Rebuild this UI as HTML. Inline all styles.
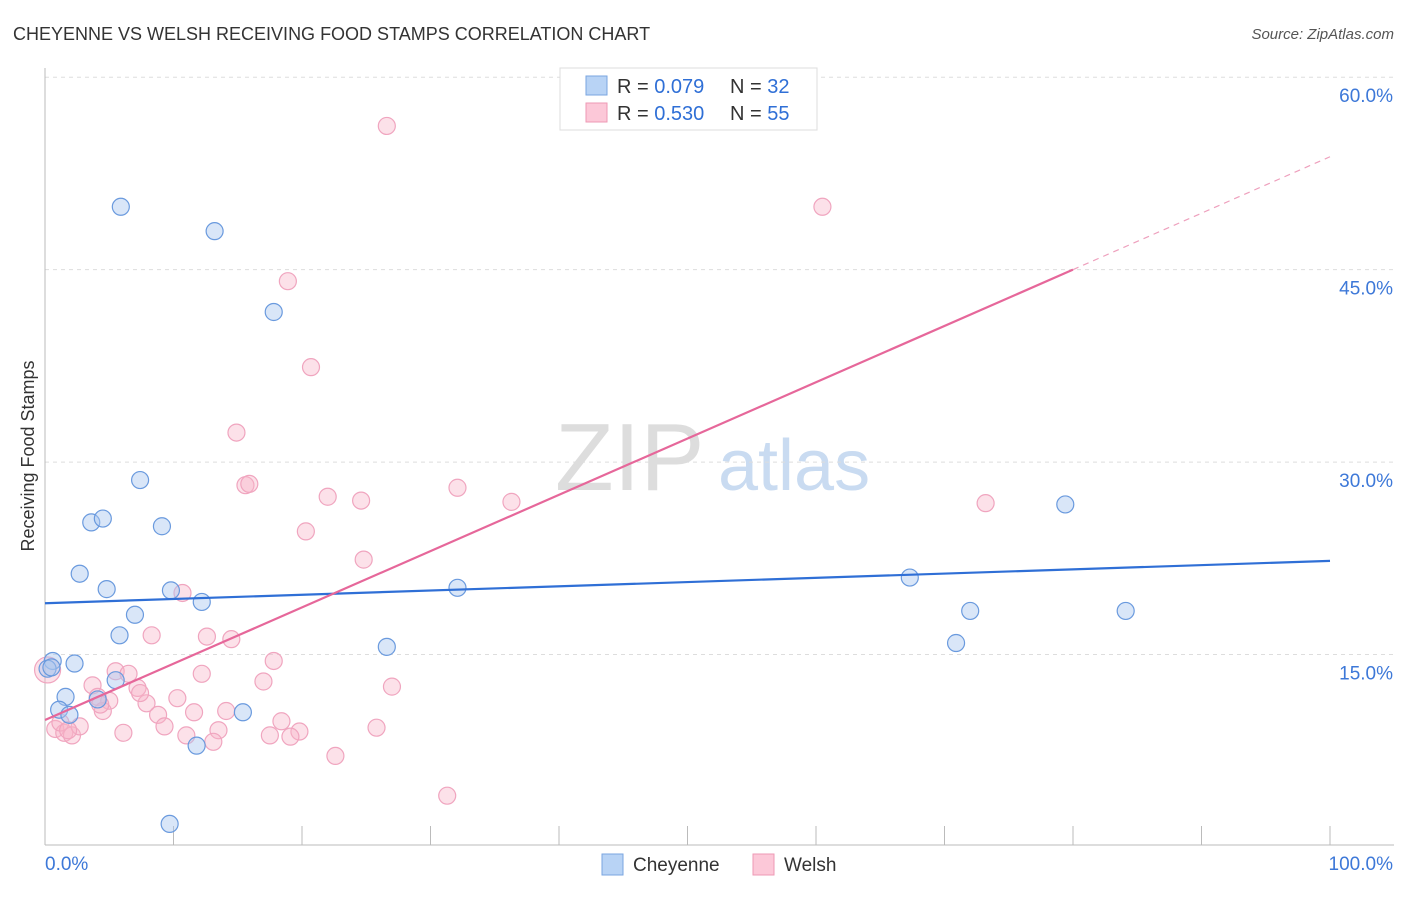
<!DOCTYPE html>
<html><head><meta charset="utf-8"><style>
body{margin:0;background:#fff;font-family:"Liberation Sans",sans-serif}
svg text{font-family:"Liberation Sans",sans-serif}
</style></head><body>
<svg id="c" width="1406" height="892">
<text x="13" y="40" font-size="18" fill="#333">CHEYENNE VS WELSH RECEIVING FOOD STAMPS CORRELATION CHART</text>
<text x="1394" y="39" font-size="15" fill="#555" font-style="italic" text-anchor="end">Source: ZipAtlas.com</text>
<text x="0" y="0" font-size="18" fill="#333" transform="translate(34,456) rotate(-90)" text-anchor="middle">Receiving Food Stamps</text>
<text x="555" y="490" font-size="96" fill="#ddd" font-family="Liberation Serif">ZIP</text>
<text x="718" y="490" font-size="72" fill="#c9dbf1">atlas</text>
<g id="grid"></g><g id="marks"></g>
<g>
<rect x="560" y="68" width="257" height="62" fill="#fff" stroke="#ddd"/>
<rect x="586" y="76" width="21" height="19" fill="#b8d3f5" stroke="#7aa6e0"/>
<rect x="586" y="103" width="21" height="19" fill="#fcc8d8" stroke="#ee99b4"/>
<text x="617" y="93" font-size="20" fill="#333">R = <tspan fill="#2f6fd6">0.079</tspan><tspan x="730">N = </tspan><tspan fill="#2f6fd6">32</tspan></text>
<text x="617" y="120" font-size="20" fill="#333">R = <tspan fill="#2f6fd6">0.530</tspan><tspan x="730">N = </tspan><tspan fill="#2f6fd6">55</tspan></text>
</g>
<g>
<rect x="602" y="854" width="21" height="21" fill="#b8d3f5" stroke="#7aa6e0"/>
<text x="633" y="871" font-size="19" fill="#333">Cheyenne</text>
<rect x="753" y="854" width="21" height="21" fill="#fcc8d8" stroke="#ee99b4"/>
<text x="784" y="871" font-size="19" fill="#333">Welsh</text>
</g>
</svg>
<script>
const yTicks=[15,30,45,60];
const yTickLabels=["15.0%","30.0%","45.0%","60.0%"];
const cheyX=[5.9,13.2,17.8,7.4,3.6,4.5,9.1,2.7,4.8,9.8,12.2,7.0,5.8,0.6,2.3,0.2,1.6,4.1,1.1,1.9,5.5,11.8,15.4,9.7,26.6,32.1,67.3,72.0,70.9,79.4,84.1,0.5];
const cheyY=[49.9,48.0,41.7,28.6,25.3,25.6,25.0,21.3,20.1,20.0,19.1,18.1,16.5,14.5,14.3,13.9,11.7,11.5,10.7,10.3,13.0,7.9,10.5,1.8,15.6,20.2,21.0,18.4,15.9,26.7,18.4,14.0];
const welshX=[26.6,60.5,18.9,20.7,14.9,15.6,15.9,22.0,24.6,32.1,36.3,20.3,24.8,73.2,10.7,8.3,12.6,14.5,17.8,5.5,6.5,12.2,3.7,7.2,4.1,5.0,17.0,27.0,10.3,4.5,7.9,8.8,11.6,14.1,9.3,13.5,18.4,19.8,25.8,11.0,13.1,17.5,19.1,6.1,22.6,31.3,0.8,1.5,2.1,2.7,0.2,1.2,1.8,4.3,7.4];
const welshY=[56.2,49.9,44.1,37.4,32.3,28.2,28.3,27.3,27.0,28.0,26.9,24.6,22.4,26.8,19.8,16.5,16.4,16.2,14.5,13.7,13.5,13.5,12.6,12.4,11.7,11.4,12.9,12.5,11.6,10.6,11.2,10.3,10.5,10.6,9.4,9.1,9.8,9.0,9.3,8.7,8.2,8.7,8.6,8.9,7.1,4.0,9.2,8.9,8.7,9.4,13.8,9.7,9.1,11.1,12.0];
const X=v=>45+v*12.85, Y=v=>847-v*12.83;
const NS="http://www.w3.org/2000/svg";
function mk(t,a,p){const e=document.createElementNS(NS,t);for(const k in a)e.setAttribute(k,a[k]);p.appendChild(e);return e;}
const g=document.getElementById('grid'),m=document.getElementById('marks');
yTicks.forEach((t,i)=>{
 const l=mk('line',{x1:45,x2:1394,y1:Y(t),y2:Y(t),stroke:'#ddd','stroke-dasharray':'4,4'},g);
 
 
 const tx=mk('text',{x:1393,y:Y(t)+25,'font-size':19,fill:'#3d78d8','text-anchor':'end'},g);tx.textContent=yTickLabels[i];
 
 
});
const ax=mk('line',{x1:45,x2:1394,y1:845,y2:845,stroke:'#bbb'},g);


const ay=mk('line',{x1:45,x2:45,y1:68,y2:845,stroke:'#bbb'},g);


for(let i=0;i<=10;i++){const t=mk('line',{x1:X(i*10),x2:X(i*10),y1:826,y2:845,stroke:'#bbb'},g);
 
 }
const l0=mk('text',{x:45,y:870,'font-size':19,fill:'#3d78d8'},g);l0.textContent='0.0%';


const l1=mk('text',{x:1393,y:870,'font-size':19,fill:'#3d78d8','text-anchor':'end'},g);l1.textContent='100.0%';


welshX.forEach((x,i)=>{const c=mk('circle',{cx:X(x),cy:Y(welshY[i]),r:i==50?13:8.5,fill:'rgba(248,180,200,0.4)',stroke:'#f0a5bf','stroke-width':1.2},m);
 
 });
cheyX.forEach((x,i)=>{const c=mk('circle',{cx:X(x),cy:Y(cheyY[i]),r:8.5,fill:'rgba(170,200,240,0.45)',stroke:'#6a9ade','stroke-width':1.2},m);
 
 });
const bl=mk('line',{x1:X(0),y1:Y(19.0),x2:X(100),y2:Y(22.3),stroke:'#2f6fd6','stroke-width':2.2},m);


const pl=mk('line',{x1:X(0),y1:Y(9.9),x2:X(80),y2:Y(45),stroke:'#e6679a','stroke-width':2.2},m);


const pd=mk('line',{x1:X(80),y1:Y(45),x2:X(100),y2:Y(53.8),stroke:'#eea0bd','stroke-width':1.2,'stroke-dasharray':'6,5'},m);


</script>
</body></html>
